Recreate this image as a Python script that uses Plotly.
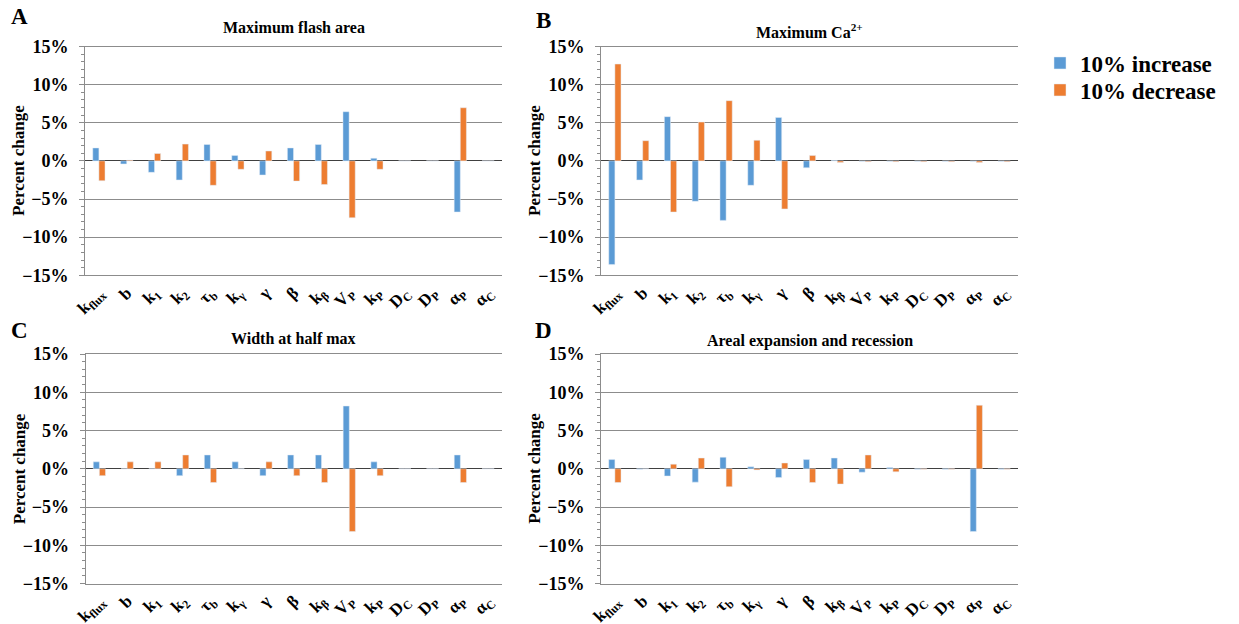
import plotly.graph_objects as go
from plotly.subplots import make_subplots

params = ["k<sub>flux</sub>", "b", "k<sub>1</sub>", "k<sub>2</sub>", "τ<sub>b</sub>", "k<sub>γ</sub>", "γ",
          "β", "k<sub>β</sub>", "V<sub>P</sub>", "k<sub>P</sub>", "D<sub>C</sub>", "D<sub>P</sub>",
          "α<sub>P</sub>", "α<sub>C</sub>"]

# Panel A: Maximum flash area
a_increase = [1.7, -0.4, -1.5, -2.5, 2.15, 0.7, -1.85, 1.7, 2.15, 6.45, 0.35, 0.0, 0.0, -6.7, 0.0]
a_decrease = [-2.6, 0.1, 0.97, 2.2, -3.2, -1.1, 1.3, -2.65, -3.1, -7.45, -1.1, 0.0, 0.0, 6.97, 0.0]
# Panel B: Maximum Ca2+
b_increase = [-13.6, -2.5, 5.8, -5.3, -7.8, -3.2, 5.7, -0.9, 0.05, -0.05, -0.05, -0.05, -0.05, -0.05, -0.05]
b_decrease = [12.7, 2.65, -6.7, 5.1, 7.9, 2.7, -6.3, 0.7, -0.2, -0.1, -0.1, -0.1, -0.1, -0.2, -0.1]
# Panel C: Width at half max
c_increase = [0.9, 0.0, 0.0, -0.9, 1.8, 0.9, -0.9, 1.8, 1.8, 8.2, 0.9, 0.0, 0.0, 1.8, 0.0]
c_decrease = [-0.9, 0.9, 0.9, 1.8, -1.8, 0.0, 0.9, -0.9, -1.8, -8.2, -0.9, 0.0, 0.0, -1.8, 0.0]
# Panel D: Areal expansion and recession
d_increase = [1.2, -0.05, -0.95, -1.75, 1.5, 0.25, -1.15, 1.2, 1.4, -0.45, 0.15, -0.05, -0.05, -8.2, -0.05]
d_decrease = [-1.8, 0.0, 0.6, 1.4, -2.35, -0.15, 0.75, -1.8, -2.0, 1.8, -0.4, -0.05, -0.05, 8.3, -0.05]

titles = ["Maximum flash area", "Maximum Ca<sup>2+</sup>", "Width at half max", "Areal expansion and recession"]
letters = ["A", "B", "C", "D"]
series = [(a_increase, a_decrease), (b_increase, b_decrease), (c_increase, c_decrease), (d_increase, d_decrease)]

BLUE = "#5B9BD5"
ORANGE = "#ED7D31"
FONT = "Liberation Serif, Times New Roman, Times, serif"
W, H = 1239, 624

positions = list(range(len(params)))

fig = make_subplots(rows=2, cols=2)

# pixel boxes (left, right, top, bottom)
boxes = [(85, 502, 46.5, 275.3), (601, 1018, 46.5, 275.3), (85.5, 502, 354, 583.5), (601, 1018, 354, 583.5)]
title_y = [28, 31, 338, 341]
pos = [(1, 1), (1, 2), (2, 1), (2, 2)]

for i, ((inc, dec), (r, c)) in enumerate(zip(series, pos)):
    fig.add_trace(go.Bar(x=positions, y=inc, name="10% increase", marker_color=BLUE,
                         showlegend=(i == 0), legend="legend"), row=r, col=c)
    fig.add_trace(go.Bar(x=positions, y=dec, name="10% decrease", marker_color=ORANGE,
                         showlegend=(i == 0), legend="legend2"), row=r, col=c)

for i, (l, rt, t, b) in enumerate(boxes):
    sfx = "" if i == 0 else str(i + 1)
    fig.layout["xaxis" + sfx].update(
        domain=[l / W, rt / W], showgrid=False, zeroline=False, ticks="", automargin=False,
        range=[-0.5, len(params) - 0.5], tickmode="array", tickvals=positions, ticktext=params,
        tickangle=-45, tickfont=dict(family=FONT, size=17, color="black", weight="bold"),
        showline=True, mirror=True, linecolor="#8c8c8c", linewidth=1,
    )
    fig.layout["yaxis" + sfx].update(
        domain=[1 - b / H, 1 - t / H], range=[-15, 15], dtick=5, ticksuffix="%", automargin=False,
        showgrid=True, gridcolor="#8c8c8c", gridwidth=1,
        zeroline=True, zerolinecolor="#404040", zerolinewidth=1,
        showline=True, linecolor="#8c8c8c", linewidth=1,
        ticks="outside", ticklen=5, tickcolor="#8c8c8c", ticklabelstandoff=7,
        minor=dict(ticks="outside", dtick=1, ticklen=3, tickcolor="#8c8c8c", showgrid=False),
        tickfont=dict(family=FONT, size=18, color="black", weight="bold"),
    )
    # y-axis title
    fig.add_annotation(text="<b>Percent change</b>", xref="paper", yref="paper",
                       x=(l - 66) / W, y=1 - (t + b) / 2 / H, textangle=-90, showarrow=False,
                       font=dict(family=FONT, size=17, color="black"), xanchor="center", yanchor="middle")
    # subplot title
    fig.add_annotation(text="<b>" + titles[i] + "</b>", xref="paper", yref="paper",
                       x=(l + rt) / 2 / W, y=1 - title_y[i] / H, showarrow=False,
                       font=dict(family=FONT, size=16, color="black"), xanchor="center", yanchor="middle")

letter_pos = [(20, 16), (543, 20), (20, 330), (543, 330)]
for (lx, ly), let in zip(letter_pos, letters):
    fig.add_annotation(text="<b>" + let + "</b>", xref="paper", yref="paper", x=lx / W, y=1 - ly / H,
                       showarrow=False, font=dict(family=FONT, size=23, color="black"),
                       xanchor="center", yanchor="middle")

legend_style = dict(xanchor="left", yanchor="middle", bgcolor="rgba(0,0,0,0)", itemwidth=30,
                    font=dict(family=FONT, size=23, color="black", weight="bold"))

fig.update_layout(
    width=W, height=H, margin=dict(l=0, r=0, t=0, b=0, autoexpand=False),
    paper_bgcolor="white", plot_bgcolor="white",
    barmode="group", bargap=0.56, bargroupgap=0.0,
    font=dict(family=FONT, color="black"),
    legend=dict(x=1040 / W, y=1 - 63 / H, **legend_style),
    legend2=dict(x=1040 / W, y=1 - 90 / H, **legend_style),
)

fig.write_html("out.html")
